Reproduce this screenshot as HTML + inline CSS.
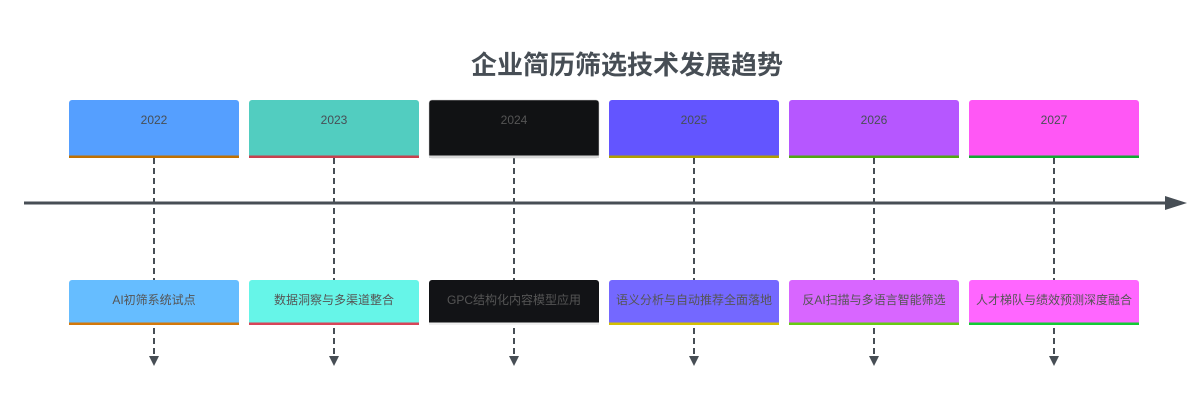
<!DOCTYPE html>
<html><head><meta charset="utf-8"><style>
html,body{margin:0;padding:0;background:#fff;width:1196px;height:400px;overflow:hidden}
text{font-family:"Liberation Sans","Noto Sans CJK SC",sans-serif}
</style></head><body>
<svg width="1196" height="400" xmlns="http://www.w3.org/2000/svg">
<text x="627" y="74" text-anchor="middle" font-size="26" font-weight="bold" fill="#474e55">企业简历筛选技术发展趋势</text>
<g stroke="#474e55" stroke-width="2" stroke-dasharray="6,4" fill="none">
<line x1="154" y1="158" x2="154" y2="358"/>
<line x1="334" y1="158" x2="334" y2="358"/>
<line x1="514" y1="158" x2="514" y2="358"/>
<line x1="694" y1="158" x2="694" y2="358"/>
<line x1="874" y1="158" x2="874" y2="358"/>
<line x1="1054" y1="158" x2="1054" y2="358"/>
</g>
<g fill="#474e55">
<path d="M149,356 L159,356 L154,366Z"/><path d="M329,356 L339,356 L334,366Z"/><path d="M509,356 L519,356 L514,366Z"/>
<path d="M689,356 L699,356 L694,366Z"/><path d="M869,356 L879,356 L874,366Z"/><path d="M1049,356 L1059,356 L1054,366Z"/>
</g>
<line x1="24" y1="203" x2="1168" y2="203" stroke="#474e55" stroke-width="3"/>
<path d="M1165,196 L1187,203 L1165,210Z" fill="#474e55"/>
<g font-size="12" text-anchor="middle">
<rect x="69" y="100" width="170" height="58" rx="3" fill="#559fff"/><rect x="69" y="155.5" width="170" height="2.5" fill="#c07000"/>
<text x="154" y="124" fill="#474e55">2022</text>
<rect x="249" y="100" width="170" height="58" rx="3" fill="#52cdc0"/><rect x="249" y="155.5" width="170" height="2.5" fill="#c8404e"/>
<text x="334" y="124" fill="#474e55">2023</text>
<rect x="429" y="100" width="170" height="58" rx="3" fill="#111214" stroke="#ccc" stroke-width="0.5"/><rect x="429" y="155.5" width="170" height="2.5" fill="#d8d8d8"/>
<text x="514" y="124" fill="#555">2024</text>
<rect x="609" y="100" width="170" height="58" rx="3" fill="#6355ff"/><rect x="609" y="155.5" width="170" height="2.5" fill="#b0a000"/>
<text x="694" y="124" fill="#474e55">2025</text>
<rect x="789" y="100" width="170" height="58" rx="3" fill="#b657ff"/><rect x="789" y="155.5" width="170" height="2.5" fill="#50a810"/>
<text x="874" y="124" fill="#474e55">2026</text>
<rect x="969" y="100" width="170" height="58" rx="3" fill="#ff57f5"/><rect x="969" y="155.5" width="170" height="2.5" fill="#10a830"/>
<text x="1054" y="124" fill="#474e55">2027</text>
<rect x="69" y="280" width="170" height="45" rx="3" fill="#66bdff"/><rect x="69" y="322.5" width="170" height="2.5" fill="#d4780a"/>
<text x="154" y="304" fill="#555">AI初筛系统试点</text>
<rect x="249" y="280" width="170" height="45" rx="3" fill="#66f5e8"/><rect x="249" y="322.5" width="170" height="2.5" fill="#d84458"/>
<text x="334" y="304" fill="#555">数据洞察与多渠道整合</text>
<rect x="429" y="280" width="170" height="45" rx="3" fill="#121316"/><rect x="429" y="322.5" width="170" height="2.5" fill="#f0f0f0"/>
<text x="514" y="304" fill="#555">GPC结构化内容模型应用</text>
<rect x="609" y="280" width="170" height="45" rx="3" fill="#7468ff"/><rect x="609" y="322.5" width="170" height="2.5" fill="#d4c000"/>
<text x="694" y="304" fill="#555">语义分析与自动推荐全面落地</text>
<rect x="789" y="280" width="170" height="45" rx="3" fill="#d866ff"/><rect x="789" y="322.5" width="170" height="2.5" fill="#66cc11"/>
<text x="874" y="304" fill="#555">反AI扫描与多语言智能筛选</text>
<rect x="969" y="280" width="170" height="45" rx="3" fill="#ff66ff"/><rect x="969" y="322.5" width="170" height="2.5" fill="#11cc33"/>
<text x="1054" y="304" fill="#555">人才梯队与绩效预测深度融合</text>
</g>
</svg>
</body></html>
